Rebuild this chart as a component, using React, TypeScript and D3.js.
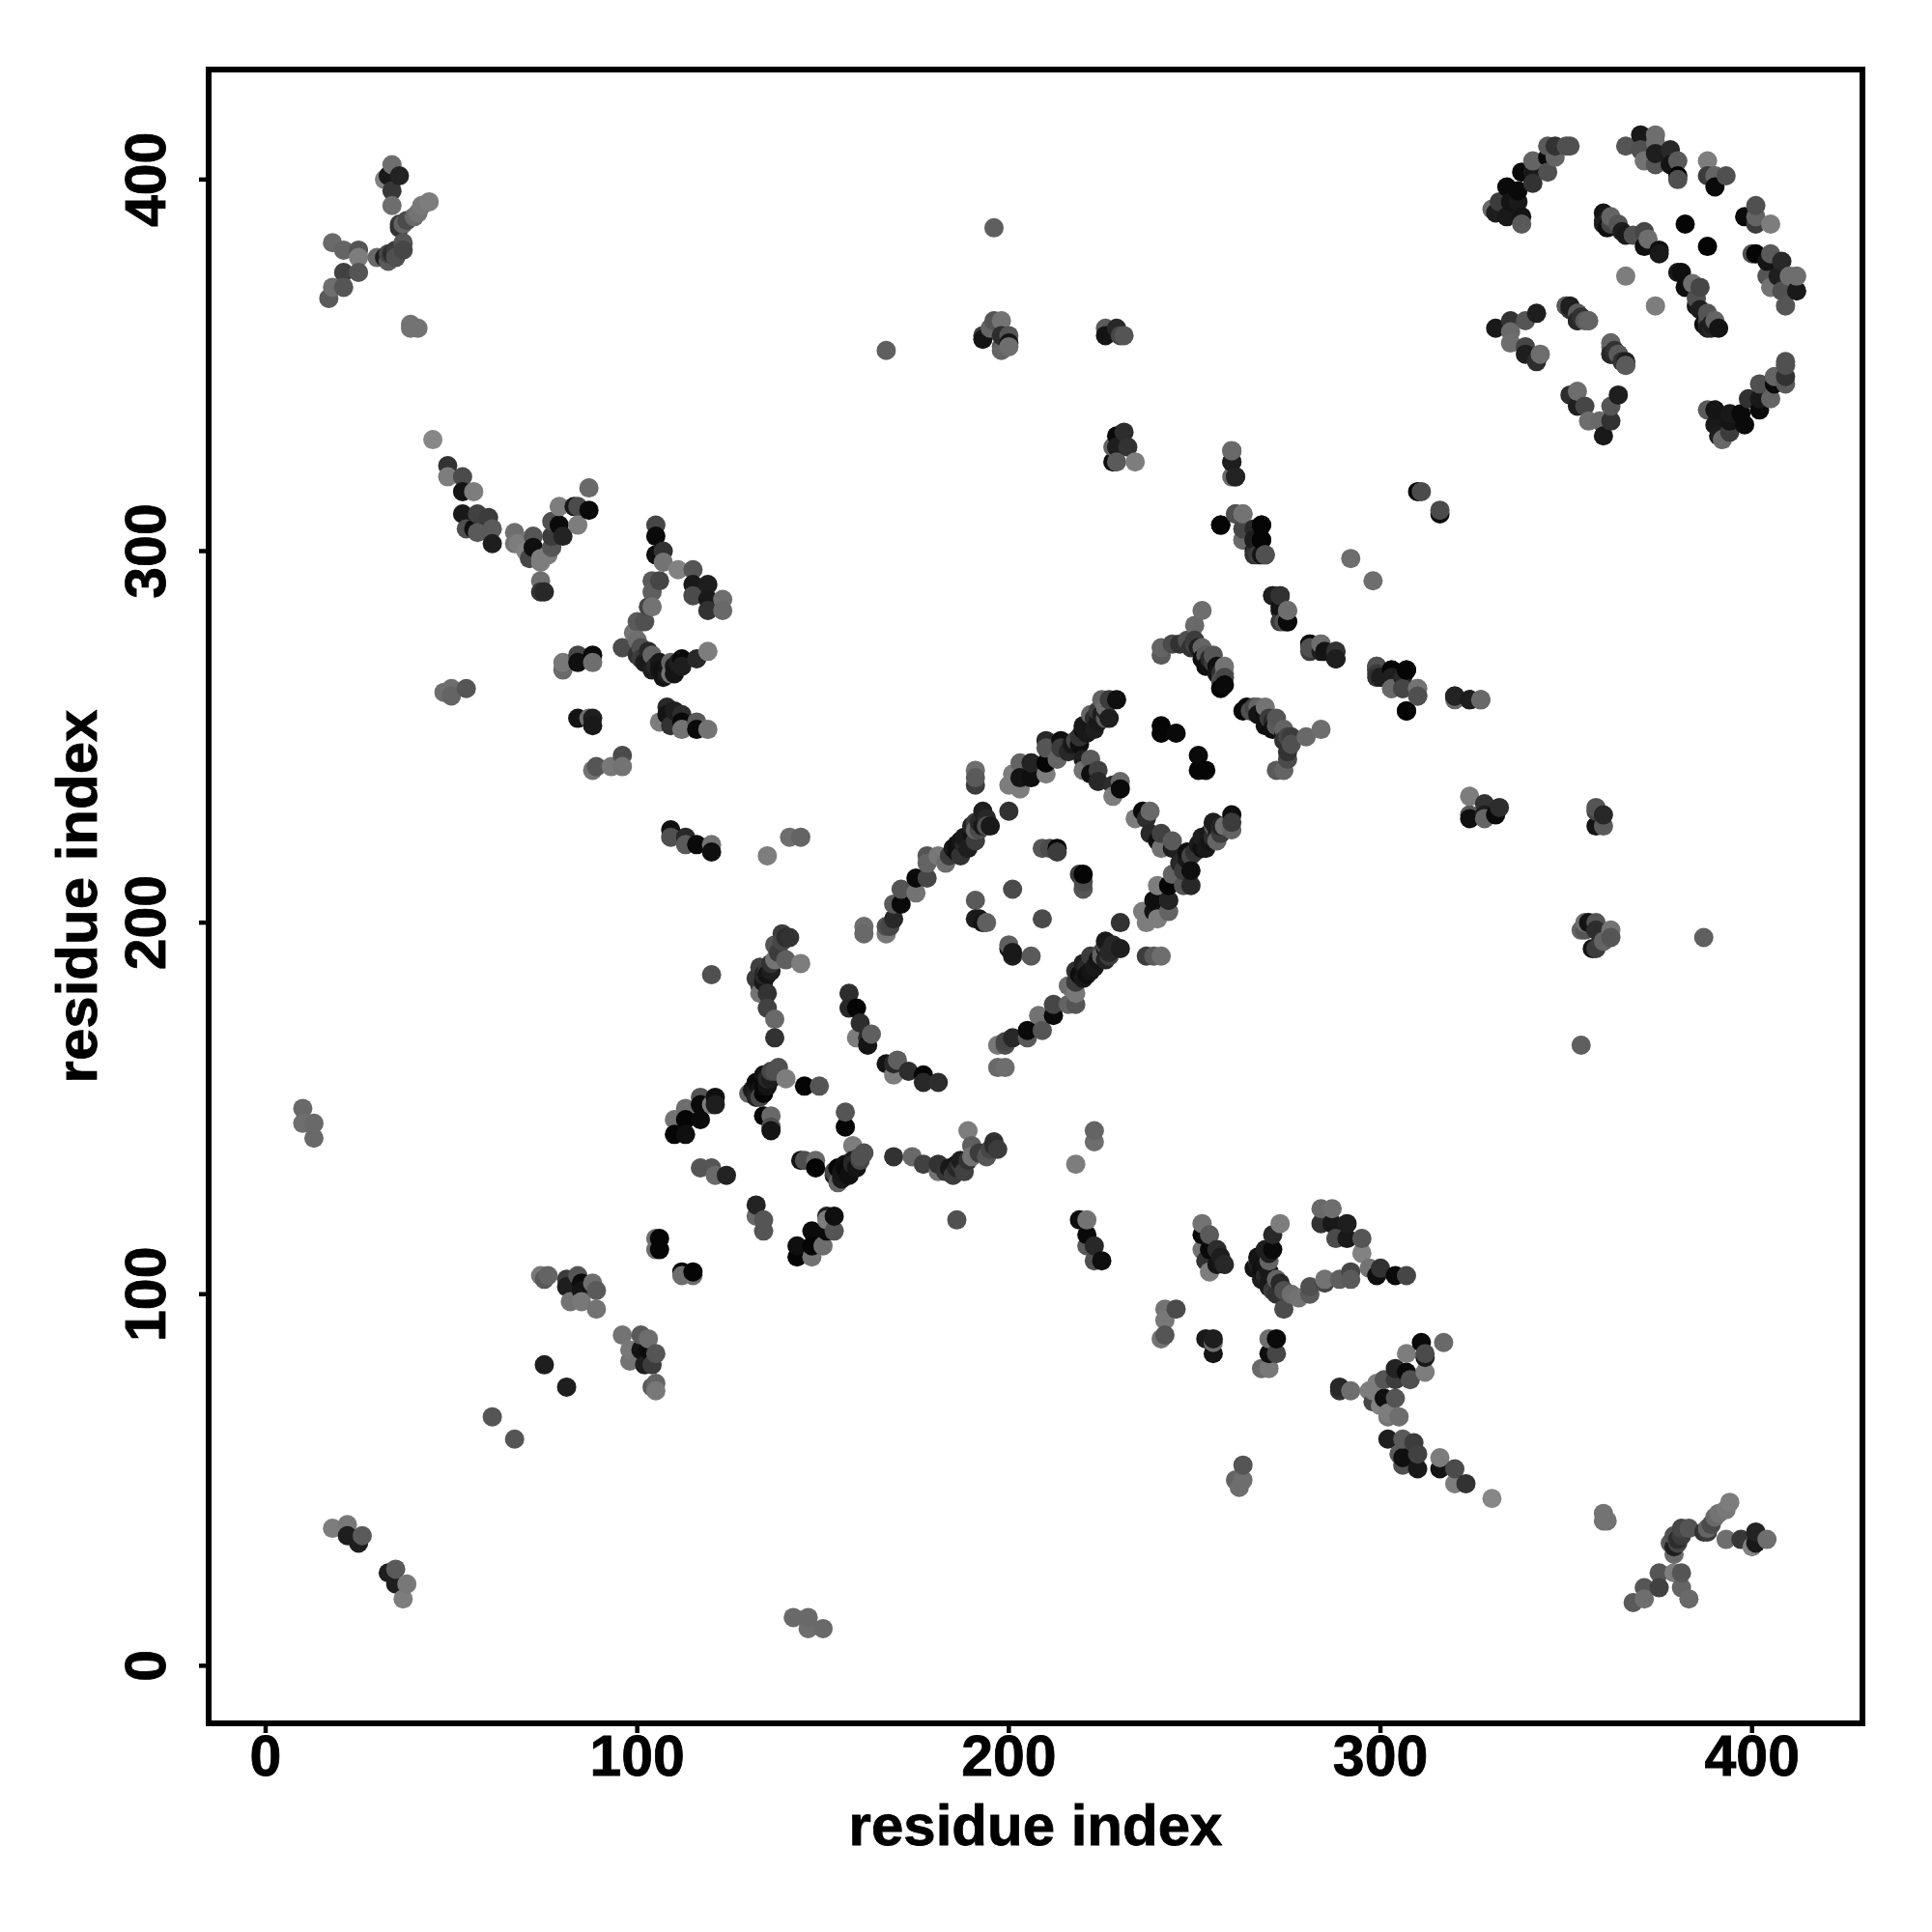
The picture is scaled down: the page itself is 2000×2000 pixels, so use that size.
import React from "react";
import * as d3 from "d3";

type Contact = [number, number, number];

const tickValues = [0, 100, 200, 300, 400];
const axisTitle = "residue index";

// upper-triangle contacts: residue i, residue j, grey level of the point
const nTerminalArm: Contact[] = [
  [34,404,110],[32,400,130],[33,401,25],[36,401,35],[34,397,55],[34,393,110],[36,388,60],[36,387,50],[37,388,100],[38,389,75],[40,390,105],[41,391,115],[42,393,120],[44,394,125],
  [18,383,105],[21,381,100],[25,381,85],[25,379,125],[25,375,85],[21,375,65],[21,371,85],[18,371,110],[17,368,90],[30,379,105],[33,378,90],[32,379,30],[33,380,70],[34,380,45],[35,381,60],[37,383,85],[37,381,70],[35,379,80],
  [39,361,115],[39,360,115],[41,360,115],
  [18,37,125],[22,38,120],[22,35,30],[26,35,90],[25,33,30],
  [10,150,105],[10,146,110],[13,146,105],[13,142,105],
  [61,67,85],[75,81,30],
];

const firstSheet: Contact[] = [
  [45,330,135],[49,323,50],[49,320,125],[53,320,75],[53,316,20],[56,316,125],[53,310,25],[57,310,65],[60,309,60],[54,306,80],[57,305,90],[56,306,15],[61,306,90],[61,302,30],
  [67,305,110],[67,302,115],[68,302,125],[70,300,130],[71,298,70],[72,304,85],[72,301,15],[74,298,125],[74,297,125],[76,299,125],[77,301,85],[77,304,60],[80,304,35],[77,308,80],[79,307,10],[79,312,125],[83,312,25],[84,312,75],[84,307,125],[87,311,10],[87,317,105],
  [74,292,110],[74,289,50],[75,289,40],
  [105,307,70],[105,304,10],[107,300,50],[105,299,15],[107,297,115],[111,295,130],[115,295,85],[115,291,25],[119,291,30],[115,288,75],[119,287,25],[123,287,110],[119,284,50],[123,284,105],
  [106,292,70],[104,292,90],[104,289,95],[103,285,70],[104,285,115],[100,281,90],[102,281,80],[99,278,115],[100,276,110],[96,274,75],[101,274,80],[103,273,40],[100,272,50],[104,272,100],[102,270,30],[106,270,25],[104,268,30],[106,268,20],[109,270,100],[109,267,115],[107,266,20],[110,269,20],[112,271,10],[112,269,30],[116,271,40],[119,273,125],
  [80,268,105],[80,270,120],[84,272,70],[84,270,15],[88,272,10],[88,270,110],
  [48,262,110],[50,263,110],[50,261,100],[54,263,85],
  [84,255,20],[87,255,110],[88,255,30],[88,253,25],
  [108,258,40],[108,256,20],[106,254,125],[109,253,50],[112,256,45],[112,254,10],[112,252,115],[116,254,90],[116,252,10],[119,252,115],[110,257,30],
  [96,245,75],[96,242,115],[93,242,120],[89,242,85],[88,241,115],
];

const middleStrands: Contact[] = [
  [109,225,15],[109,223,80],[113,223,40],[113,221,90],[116,221,10],[120,221,115],[120,219,15],[135,218,125],[141,223,110],[144,223,100],[120,186,80],
  [139,197,60],[141,196,50],[137,194,85],[144,189,125],[140,190,95],[137,190,115],[135,187,60],[132,185,60],[133,188,65],[135,186,20],[133,183,55],[133,181,115],[135,181,50],[135,177,65],[137,174,105],[137,169,50],
  [157,181,45],[159,177,5],[157,177,40],[160,173,45],[159,169,125],[162,169,40],[163,170,95],[162,167,20],
  [138,161,80],[140,158,125],[134,159,20],[133,157,10],[135,156,20],[132,155,30],[134,154,5],[130,154,100],[136,158,30],[145,156,5],[149,156,85],[136,148,105],[134,148,5],[136,145,80],[136,144,20],
  [110,147,115],[113,150,110],[117,153,85],[121,153,15],[121,151,30],[117,151,10],[120,151,125],[117,147,10],[113,147,5],[110,143,5],[113,143,15],[117,134,85],[120,134,85],[121,132,105],[124,132,35],
  [105,115,110],[106,115,5],[106,112,5],[105,112,110],
  [76,105,100],[74,105,120],[75,104,90],[81,104,60],[84,105,85],[81,102,30],[85,103,10],[85,101,20],[88,103,110],[89,101,90],[82,98,115],[85,98,120],[89,96,115],
];

const centralBarrel: Contact[] = [
  [161,199,110],[161,197,105],[167,197,120],[167,199,80],[169,201,40],[168,199,70],[169,205,90],[171,205,10],[171,209,85],[175,208,115],[175,212,10],[178,212,70],[178,218,85],[178,216,100],[181,218,120],[183,216,110],[184,218,60],
  [186,221,15],[187,218,50],[187,222,20],[189,220,30],[188,223,25],[191,222,60],[192,225,75],[192,227,40],[193,230,30],[195,226,25],[191,225,100],[200,230,50],
  [191,241,110],[191,237,60],[191,239,90],[200,237,125],[203,236,125],[201,240,125],[203,243,100],[203,239,20],[206,243,70],[206,239,15],[210,240,125],[206,243,35],[210,243,5],[210,249,40],[210,247,85],[213,244,100],[214,249,15],[214,247,60],
  [219,250,50],[220,252,15],[221,251,25],[220,253,25],[223,252,30],[222,256,100],[226,258,110],[227,255,30],[229,260,15],[225,260,100],[227,260,60],
  [220,244,30],[222,244,90],[220,241,115],[222,240,15],[224,241,65],[224,238,40],[228,237,45],[228,234,125],[230,238,105],[230,236,10],
  [241,253,5],[241,251,5],[245,251,10],
  [201,209,75],[191,206,90],[191,201,30],[193,200,20],[194,200,95],[192,201,25],[209,220,85],[211,220,75],[213,220,5],[213,219,60],
];

const distantContacts: Contact[] = [
  [196,387,95],[167,354,95],
  [198,362,115],[196,362,85],[195,360,100],[193,358,60],[193,357,20],[200,358,85],[200,356,20],[198,355,85],[198,354,100],[200,355,110],[198,358,45],
  [226,360,90],[226,358,20],[229,360,40],[230,358,70],[231,358,85],
  [231,332,45],[229,331,10],[232,328,50],[229,328,30],[229,324,90],[228,324,15],[234,324,125],[228,328,100],
  [260,327,95],[260,324,25],[260,320,105],[261,320,35],[257,307,5],[261,310,80],[263,310,125],[263,306,70],[263,303,80],[266,306,40],[268,307,5],[268,303,5],[266,303,30],[266,300,30],[268,299,20],[269,299,85],
  [252,284,110],[250,280,105],[250,276,60],[252,274,100],[255,272,85],[252,271,15],[253,269,15],[258,269,115],[258,266,70],[256,267,20],[257,263,5],[258,264,10],[249,274,50],
  [241,272,90],[241,274,100],[244,275,75],[246,275,50],[248,276,80],
  [271,288,25],[273,288,45],[273,284,30],[275,284,100],[273,281,60],[275,281,5],[281,275,10],[281,274,80],[284,275,110],[285,273,20],[288,273,50],[288,271,30],
  [299,269,80],[299,267,60],[299,266,50],[303,268,5],[303,266,30],[307,268,5],[303,263,105],[306,263,70],[310,263,115],[310,261,80],[307,257,5],[320,261,35],[324,260,30],[327,260,105],
  [310,316,10],[311,316,75],[292,298,110],
];

const cTerminalBarrel: Contact[] = [
  [330,392,105],[331,391,30],[334,390,25],[338,390,20],[338,388,90],[332,394,60],[335,394,20],[337,394,25],[334,398,10],[337,397,10],[338,402,10],[341,402,25],[341,399,50],[341,405,100],[345,406,10],[345,402,80],[347,406,100],[345,409,90],[347,409,50],[350,409,80],[351,409,80],
  [366,409,85],[370,412,25],[374,412,110],[370,408,80],[374,410,110],[371,405,115],[374,404,85],[378,408,40],[374,407,30],[380,405,90],[378,404,20],[380,401,5],[380,400,80],
  [388,405,125],[388,401,60],[390,401,100],[393,401,80],[390,398,10],
  [360,391,20],[360,388,30],[362,390,100],[364,388,85],[361,387,15],[365,386,30],[368,385,80],[371,386,70],[372,384,110],[371,382,15],[375,381,15],[375,380,25],[382,388,5],[366,374,125],
  [331,360,25],[335,362,50],[339,362,85],[342,364,30],[335,359,105],[335,356,110],[339,355,70],[339,353,30],[343,353,110],[342,351,45],
  [350,366,90],[351,365,50],[353,364,70],[355,362,90],[356,362,110],[353,362,30],
  [362,356,100],[363,354,50],[364,353,90],[366,351,30],[366,350,90],[362,353,40],
];

// estimated extra contacts inside the strands where the points overlap heavily
const crowdedStrands: Contact[] = [
  [216,246,40],[217,248,25],[218,249,70],[219,248,15],[222,254,20],[223,255,45],[224,254,25],[224,257,60],[225,256,30],[226,255,90],[226,257,35],
  [185,220,25],[186,219,15],[188,221,40],[190,224,20],[190,226,35],[191,227,60],[193,226,25],[194,228,40],[194,226,80],
  [250,275,70],[251,274,30],[253,272,90],[254,271,40],[255,270,60],[256,269,15],[257,267,50],[257,265,80],[258,267,100],
  [360,389,40],[361,389,30],[362,388,70],[366,385,25],
  [134,184,25],[134,186,40],[136,187,30],[136,189,50],[138,192,60],[139,195,70],[140,196,45],
  [131,155,25],[132,157,15],[133,155,20],[134,156,10],[135,158,40],[136,160,70],[137,160,80],[132,153,35],[133,153,70],
  [101,271,60],[103,270,25],[105,269,40],[107,268,15],[108,267,30],[108,269,20],[110,267,20],[111,270,30],
];

const upperContacts: Contact[] = [
  ...nTerminalArm,
  ...firstSheet,
  ...middleStrands,
  ...crowdedStrands,
  ...centralBarrel,
  ...distantContacts,
  ...cTerminalBarrel,
];

// the contact map is symmetric: each pair appears as (i, j) and (j, i)
const allContacts = upperContacts
  .flatMap(([i, j, g]) => [
    { x: i, y: j, g },
    { x: j, y: i, g },
  ])
  .sort((a, b) => d3.ascending(a.x, b.x));

const x = d3.scaleLinear().domain([-15.33, 429.7]).range([216, 1928]);
const y = d3.scaleLinear().domain([-15.5, 429.6]).range([1784, 72]);

const FONT = "'Liberation Sans', Arimo, Helvetica, Arial, sans-serif";

export default function App() {
  const [x0, x1] = x.range();
  const [y0, y1] = y.range();
  return (
    <svg
      width={2000}
      height={2000}
      viewBox="0 0 2000 2000"
      style={{ position: "absolute", left: 0, top: 0, background: "#fff" }}
    >
      <g>
        {allContacts.map((d, k) => (
          <circle
            key={k}
            cx={x(d.x)}
            cy={y(d.y)}
            r={10}
            fill={d3.rgb(d.g, d.g, d.g).formatHex()}
          />
        ))}
      </g>
      <rect
        x={x0}
        y={y1}
        width={x1 - x0}
        height={y0 - y1}
        fill="none"
        stroke="#000"
        strokeWidth={6}
      />
      <g fontFamily={FONT} fontWeight="bold" fontSize={59} fill="#000" stroke="#000" strokeWidth={0.8}>
        {tickValues.map((t) => (
          <g key={t}>
            <line x1={x(t)} x2={x(t)} y1={y0} y2={y0 + 10} strokeWidth={4.5} />
            <text x={x(t)} y={1838} textAnchor="middle">
              {t}
            </text>
            <line x1={x0} x2={x0 - 10} y1={y(t)} y2={y(t)} strokeWidth={4.5} />
            <text
              transform={`translate(171,${y(t)}) rotate(-90)`}
              textAnchor="middle"
            >
              {t}
            </text>
          </g>
        ))}
        <text x={(x0 + x1) / 2} y={1910} textAnchor="middle" fontSize={60}>
          {axisTitle}
        </text>
        <text
          transform={`translate(100,${(y0 + y1) / 2}) rotate(-90)`}
          textAnchor="middle"
          fontSize={60}
        >
          {axisTitle}
        </text>
      </g>
    </svg>
  );
}
